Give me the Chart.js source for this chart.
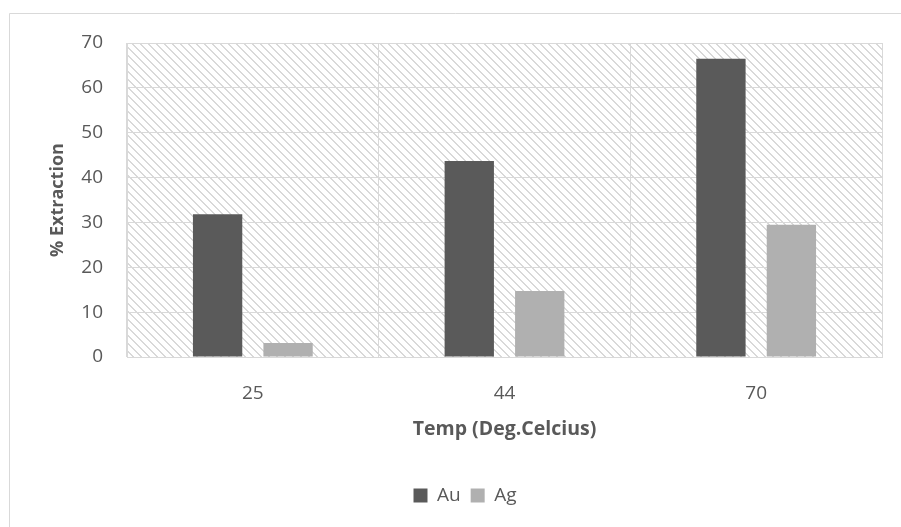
<!DOCTYPE html>
<html>
<head>
<meta charset="utf-8">
<script src="https://cdn.jsdelivr.net/npm/chart.js@4"></script>
<style>
  html, body { margin: 0; padding: 0; background: #fff; }
  #chart { display: block; }
</style>
</head>
<body>
<canvas id="chart" width="901" height="527"></canvas>
<script>
// data
const temps = ['25', '44', '70'];
const auValues = [31.8, 43.7, 66.5];
const agValues = [3.1, 14.7, 29.5];
const yTicks = [0, 10, 20, 30, 40, 50, 60, 70];

const textColor = '#595959';
const lineColor = '#d9d9d9';
const fontFamily = '"Open Sans", Lato, sans-serif';

// light downward-diagonal hatch like the Excel plot area fill
function makeHatch() {
    const tile = document.createElement('canvas');
    tile.width = 8;
    tile.height = 8;
    const t = tile.getContext('2d');
    t.fillStyle = '#ffffff';
    t.fillRect(0, 0, 8, 8);
    t.fillStyle = '#d9d9d9';
    for (let i = 0; i < 8; i++) {
        t.fillRect(i, i, 1, 1);
        t.fillRect((i + 1) % 8, i, 1, 1);
    }
    return t.createPattern(tile, 'repeat');
}

const framePlugin = {
    id: 'frame',
    afterLayout(chart) {
        // legend in the original sits a bit right of the chart centre
        chart.legend.left += 24;
        chart.legend.right += 24;
    },
    beforeDraw(chart) {
        const { ctx, chartArea } = chart;
        ctx.save();
        ctx.fillStyle = '#ffffff';
        ctx.fillRect(0, 0, chart.width, chart.height);
        // outer chart border (cut off on right and bottom)
        ctx.strokeStyle = lineColor;
        ctx.lineWidth = 1;
        ctx.beginPath();
        ctx.moveTo(9.5, chart.height);
        ctx.lineTo(9.5, 13.5);
        ctx.lineTo(chart.width, 13.5);
        ctx.stroke();
        // plot area hatch
        ctx.fillStyle = makeHatch();
        ctx.fillRect(chartArea.left, chartArea.top, chartArea.right - chartArea.left, chartArea.bottom - chartArea.top);
        ctx.restore();
    }
};

new Chart(document.getElementById('chart'), {
    type: 'bar',
    data: {
        labels: temps,
        datasets: [
            {
                label: 'Au',
                data: auValues,
                backgroundColor: '#5a5a5a',
                categoryPercentage: 0.56,
                barPercentage: 0.70,
            },
            {
                label: 'Ag',
                data: agValues,
                backgroundColor: '#b0b0b0',
                categoryPercentage: 0.56,
                barPercentage: 0.70,
            },
        ],
    },
    options: {
        responsive: false,
        animation: false,
        devicePixelRatio: 1,
        layout: {
            padding: { top: 43, left: 0, right: 19, bottom: 12 },
        },
        plugins: {
            tooltip: { enabled: false },
            legend: {
                position: 'bottom',
                labels: {
                    boxWidth: 14,
                    boxHeight: 14,
                    padding: 10,
                    color: textColor,
                    font: { family: fontFamily, size: 19 },
                },
            },
        },
        scales: {
            x: {
                grid: { color: lineColor, drawTicks: false },
                border: { color: lineColor },
                ticks: {
                    color: textColor,
                    padding: 25,
                    font: { family: fontFamily, size: 19 },
                },
                title: {
                    display: true,
                    text: 'Temp (Deg.Celcius)',
                    color: textColor,
                    padding: { top: 0, bottom: 35 },
                    font: { family: fontFamily, size: 19.5, weight: 'bold' },
                },
                afterFit(scale) {
                    scale.height = 119;
                },
            },
            y: {
                min: 0,
                max: 70,
                grid: { color: lineColor, drawTicks: false },
                border: { color: lineColor },
                afterBuildTicks(scale) {
                    scale.ticks = yTicks.map((v) => ({ value: v }));
                },
                ticks: {
                    color: textColor,
                    padding: 24,
                    font: { family: fontFamily, size: 19 },
                },
                title: {
                    display: true,
                    text: '% Extraction',
                    color: textColor,
                    padding: { top: 47, bottom: 0 },
                    font: { family: fontFamily, size: 18, weight: 'bold' },
                },
                afterFit(scale) {
                    scale.width = 127;
                },
            },
        },
    },
    plugins: [framePlugin],
});
</script>
</body>
</html>
